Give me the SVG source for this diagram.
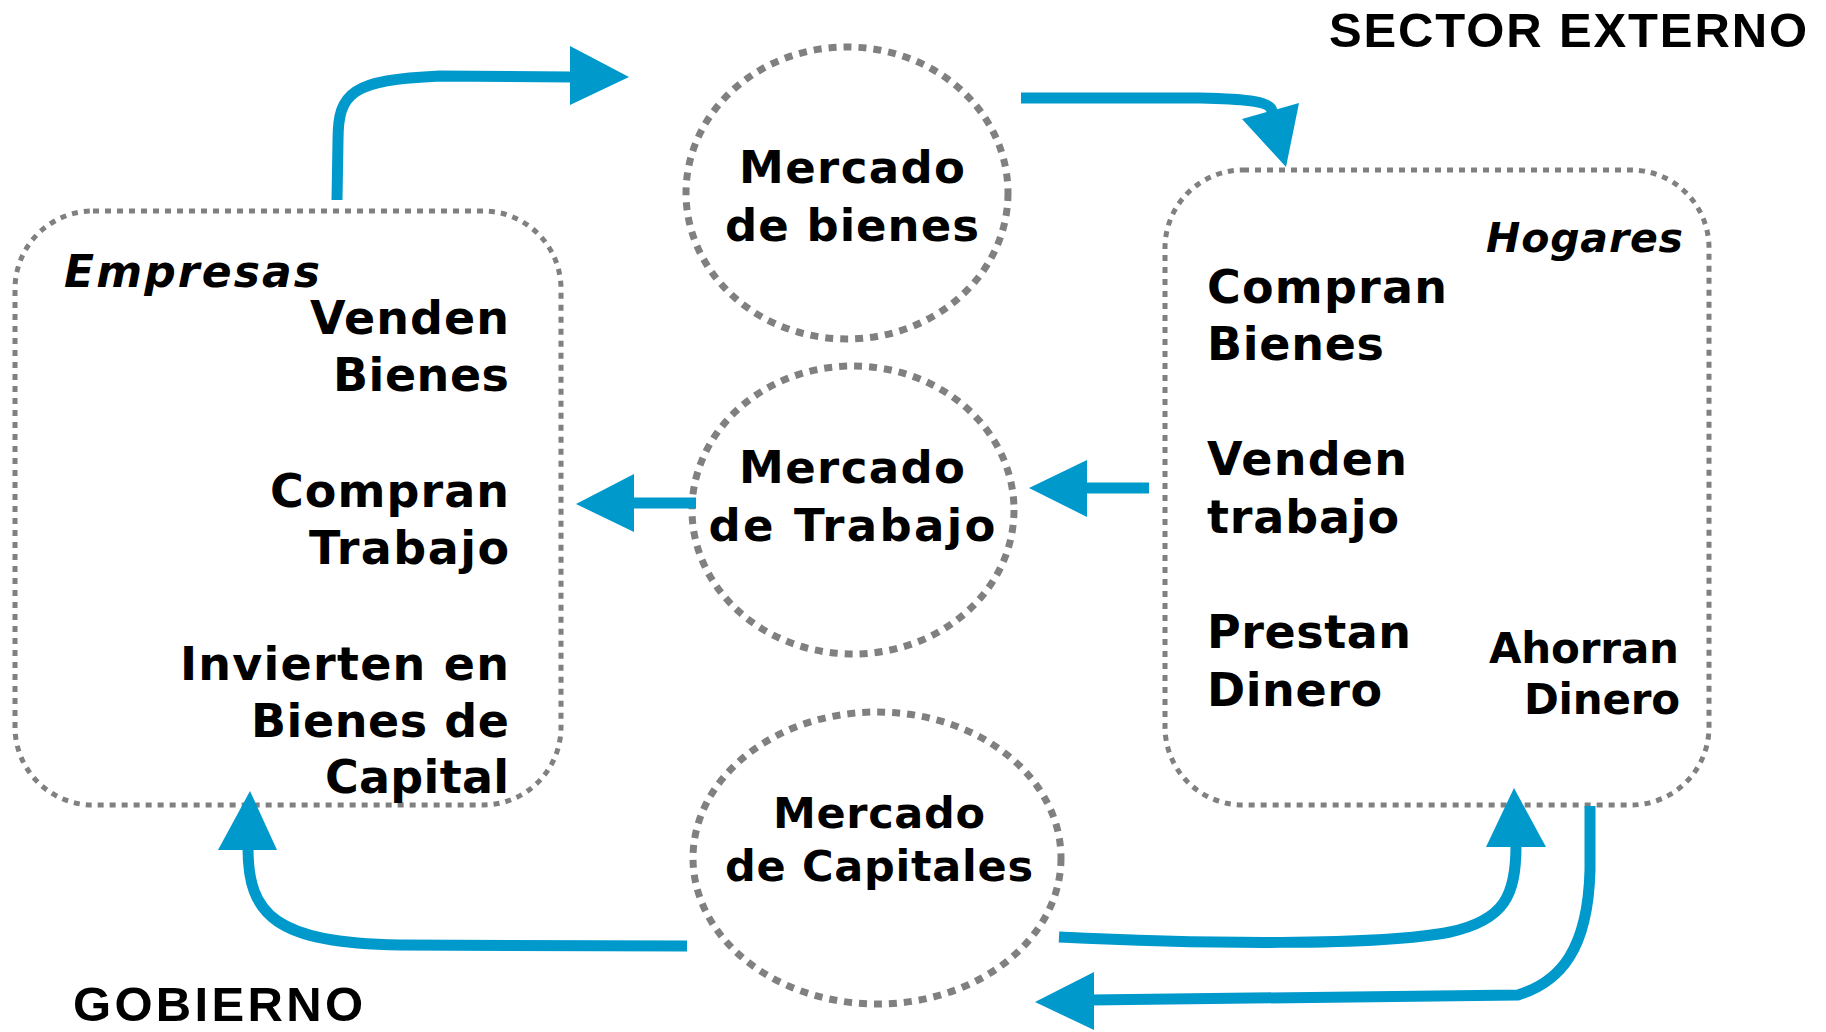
<svg xmlns="http://www.w3.org/2000/svg" width="1826" height="1032" viewBox="0 0 1826 1032">
<style>
.bg{fill:#ffffff}
.box{fill:none;stroke:#808080;stroke-width:5;stroke-dasharray:6 6}
.mkt{fill:none;stroke:#808080;stroke-width:7;stroke-dasharray:8 7}
.lbl{font-family:"DejaVu Sans","Liberation Sans",sans-serif;font-weight:bold;fill:#000}
.ttl{font-family:"Liberation Sans",Arial,sans-serif;font-weight:bold;fill:#000;font-size:49px}
.it{font-style:italic}
.flow{fill:none;stroke:#0099cc;stroke-width:11}
.head{fill:#0099cc}
</style>
<rect class="bg" x="0" y="0" width="1826" height="1032"/>

<g id="empresas">
<rect class="box" x="15" y="211" width="546" height="594" rx="78" ry="78"/>
<text class="lbl it" x="64" y="287" font-size="44" textLength="256" lengthAdjust="spacing">Empresas</text>
<text class="lbl" x="310" y="334" font-size="46" textLength="199" lengthAdjust="spacing">Venden</text>
<text class="lbl" x="333" y="391" font-size="46" textLength="176" lengthAdjust="spacing">Bienes</text>
<text class="lbl" x="270" y="507" font-size="46" textLength="239" lengthAdjust="spacing">Compran</text>
<text class="lbl" x="309" y="564" font-size="46" textLength="200" lengthAdjust="spacing">Trabajo</text>
<text class="lbl" x="180" y="680" font-size="46" textLength="329" lengthAdjust="spacing">Invierten en</text>
<text class="lbl" x="251" y="737" font-size="46" textLength="258" lengthAdjust="spacing">Bienes de</text>
<text class="lbl" x="325" y="793" font-size="46" textLength="184" lengthAdjust="spacing">Capital</text>
</g>

<g id="mercado-bienes">
<ellipse class="mkt" cx="847" cy="193" rx="161" ry="146"/>
<text class="lbl" x="852" y="183" font-size="45" text-anchor="middle" textLength="226" lengthAdjust="spacing">Mercado</text>
<text class="lbl" x="852" y="241" font-size="45" text-anchor="middle" textLength="254" lengthAdjust="spacing">de bienes</text>
</g>

<g id="mercado-trabajo">
<ellipse class="mkt" cx="853" cy="510" rx="161" ry="144"/>
<text class="lbl" x="852" y="483" font-size="45" text-anchor="middle" textLength="226" lengthAdjust="spacing">Mercado</text>
<text class="lbl" x="852" y="541" font-size="45" text-anchor="middle" textLength="287" lengthAdjust="spacing">de Trabajo</text>
</g>

<g id="mercado-capitales">
<ellipse class="mkt" cx="877" cy="858" rx="184" ry="146"/>
<text class="lbl" x="879" y="828" font-size="43" text-anchor="middle" textLength="212" lengthAdjust="spacing">Mercado</text>
<text class="lbl" x="879" y="881" font-size="43" text-anchor="middle" textLength="308" lengthAdjust="spacing">de Capitales</text>
</g>

<g id="hogares">
<rect class="box" x="1165" y="170" width="544" height="635" rx="78" ry="78"/>
<text class="lbl it" x="1486" y="252" font-size="41" textLength="197" lengthAdjust="spacing">Hogares</text>
<text class="lbl" x="1207" y="303" font-size="46" textLength="240" lengthAdjust="spacing">Compran</text>
<text class="lbl" x="1207" y="360" font-size="46" textLength="177" lengthAdjust="spacing">Bienes</text>
<text class="lbl" x="1207" y="475" font-size="46" textLength="200" lengthAdjust="spacing">Venden</text>
<text class="lbl" x="1207" y="533" font-size="46" textLength="192" lengthAdjust="spacing">trabajo</text>
<text class="lbl" x="1207" y="648" font-size="46" textLength="204" lengthAdjust="spacing">Prestan</text>
<text class="lbl" x="1207" y="706" font-size="46" textLength="175" lengthAdjust="spacing">Dinero</text>
<text class="lbl" x="1489" y="663" font-size="42" textLength="190" lengthAdjust="spacing">Ahorran</text>
<text class="lbl" x="1524" y="714" font-size="42" textLength="156" lengthAdjust="spacing">Dinero</text>
</g>

<g id="sector-externo">
<text class="ttl" x="1329" y="47" textLength="478" lengthAdjust="spacing">SECTOR EXTERNO</text>
</g>

<g id="gobierno">
<text class="ttl" x="73" y="1021" textLength="290" lengthAdjust="spacing">GOBIERNO</text>
</g>

<g id="connectors">
<path class="flow" d="M 337 200 L 338 140 C 338 92, 352 80, 440 76 L 572 77"/>
<polygon class="head" points="570,46 629,77 570,105"/>

<path class="flow" d="M 1021 98 L 1200 98 C 1250 99, 1272 102, 1272 112"/>
<polygon class="head" points="1242,119 1299,103 1286,167"/>

<path class="flow" d="M 696 503 L 630 503"/>
<polygon class="head" points="634,474 576,504 634,532"/>

<path class="flow" d="M 1149 488 L 1083 488"/>
<polygon class="head" points="1087,460 1029,488 1087,517"/>

<path class="flow" d="M 687 946 L 400 945 C 275 943, 248 915, 248 848"/>
<polygon class="head" points="218,850 250,791 277,850"/>

<path class="flow" d="M 1059 937 C 1200 944, 1380 946, 1450 932 C 1505 920, 1516 895, 1516 845"/>
<polygon class="head" points="1486,847 1514,788 1546,847"/>

<path class="flow" d="M 1590 806 L 1590 870 C 1588 950, 1560 982, 1518 995 L 1090 1000"/>
<polygon class="head" points="1094,972 1035,1002 1094,1030"/>
</g>
</svg>
